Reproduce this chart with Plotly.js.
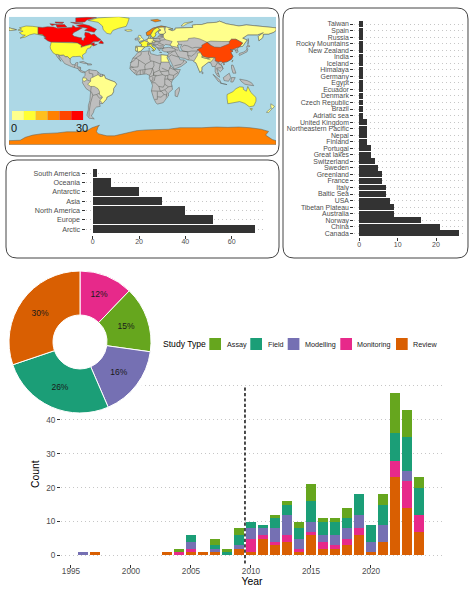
<!DOCTYPE html>
<html><head><meta charset="utf-8">
<script src="https://cdn.plot.ly/plotly-3.0.1.min.js"></script>
<style>html,body{margin:0;padding:0;background:#fff}</style></head>
<body><div id="chart" style="width:474px;height:599px"></div>
<script>
const W=474,H=599;
const FONT='"Liberation Sans", Arial, sans-serif';
const TXT='#4D4D4D', BAR='#333333', GRID='#C6C6C6';
// Map outlines: lon,lat pairs
const mapColors=['#FFFF8C','#FFFF33','#FFBF1F','#FF8000','#FF4500','#FF0000'];
const OCEAN='#ADD8E6', LAND='#BEBEBE', EDGE='#5A5F58';
const landPolys=[
 [-117,32.5,-114.8,32.5,-111,31.3,-106.5,31.7,-104,29.5,-101,29.5,-97.5,26,-97.5,22,-95,18.5,-91,18.5,-90,21,-87,21.5,-88,16,-83.5,15,-83.5,11,-80,9,-77.5,8.5,-80,7.5,-84,9,-87,13,-92,14.5,-96,16,-105,20,-109,25,-113,31,-112,27,-110,23,-115,29,-117,32.5],
 [-85,22,-80,23,-74,20,-78,20,-85,22],[-74,19.8,-69,19.5,-68.5,18.3,-74,18],
 [-77.5,8.5,-72,12,-68,11,-62,10.5,-57,6,-51.5,4.5,-50,0,-44,-2.5,-37,-5,-35,-8,-39,-14,-39,-18,-41,-22,-48,-25.5,-48.5,-28,-53.5,-34,-58,-34.5,-57,-38,-62,-39,-65,-42,-66,-46,-69,-51,-65,-55,-72,-54,-75,-50,-73,-42,-73,-37,-71,-30,-70,-18,-76,-14,-81,-6,-80,-2,-80,1,-77.5,4,-77.5,8.5],
 [-6,35.5,3,37,10,37.5,11,33.5,15,32.5,20,32,20,31,25,32,32,31,34,31,33,28,36,22,37.5,18,43,12,51,12,48,5,40,-3,39,-7,40.5,-15,35,-20,35,-24,33,-26,28,-33,20,-35,18,-33,15,-27,12,-17,13.5,-10,12,-5,9,0,9.5,4,5,6,-4,5,-8,4.5,-13,8.5,-17,13,-16,20,-13,27.5,-9.5,31,-6,35.5],
 [49.5,-12,50,-16,47,-25,44,-24,44,-17,49.5,-12],
 [-9,37,-9.5,39,-9,43.5,-2,43.5,-1,46,-4.5,48.5,2,51,8,54,8.5,57,11,56,11,54,19,54.5,21,57,24,59,30,60,23,60,21,63,25,65.5,22,65.5,17,61,18,59,16,56,13,55.5,11,59,6,58,5,62,14,68,25,71,31,70,41,67,35,66.5,40,64.5,44,66,44,68,54,68.5,68,69,67,72,73,73,80,73,87,75,100,76,104,77.5,113,74,130,71,140,72.5,160,70,170,69.5,180,68.5,180,65,177,62.5,170,60,163,60,162,55,157,51,156,57,163,62,155,59,142,59,135,54.5,141,52,135,43.5,130,42.5,127.5,39.5,129,36,126.5,34.5,125,39,121,39,118,39,122,37,119,35,122,30,120,26,114,22.5,108,21.5,106,19,109,13,105,9,100,13.5,103,5,104,1.5,100.5,4,98,9,98,16,94,16,92,21,89,22,86,20,80,15,80,11,77.5,8,73,19,72,21,67,24.5,61,25,57,27,51,28,48,30,51,25,56,25,60,22,52,16,43,12.5,39,21,35,28,34,31,36,36,30,36,26,38,27,41,35,42,41,41,37,45,31,46,28,43,29,41,24,40.5,23,37,19,42,14,45.5,12.5,44,18,40,16,38,10,44,4,43.5,0,39.5,-2,37,-5.5,36,-9,37],
 [95,5.5,104,-2,106,-6,102,-4,95,5.5],[105,-6.5,114,-7.5,114,-8.5,106,-7.5],[109,1,117,7,119,1,116,-4,110,-3,109,1],[120,1,125,1,122,-5,119,-5],
 [131,-1,141,-3,147,-6,150,-10,143,-9,138,-8,133,-4,131,-1],[120,18,122,18,124,13,126,7,122,7,120,14],
 [130,32,131,34,136,35.5,140,38,141,41,142,39,141,36,136,34,131,31,130,32],[140,42,145,43.5,142,45.5,140,42],[142,46,143,50,142.5,54,142,50],
 [80,9.5,82,7,80.5,6,80,9.5],[-10,52,-6,52,-6,55,-10,54],[-180,68.5,-175,67,-170,66,-178,65,-180,65],[24,35.5,26,35,23,35],[33,35,34.5,35.5,33,34.7],[9,41,9.7,40,9,39,8.3,40]
];
const lakes=[[47,45,53,46,51,42,54,37,50,37,49,41,47,45],[-88,48,-85,47,-85,48.5,-88,48.8],[-87,45,-85,44,-83,45,-87,46]];
const countries=[
 {name:'Canada',value:26,polys:[
  [-141,69.6,-135,69,-128,70,-120,69.5,-115,68,-108,68,-100,68,-95,69,-94,72,-90,69,-85,69.5,-81,68.5,-87,65,-93,62,-94.5,59,-92,57,-85,55.3,-82,55,-82,52.5,-79.5,51.3,-79,54,-77,56,-78,59,-77.5,62.5,-72,61.5,-69,59,-65,60,-61,56,-56,52.5,-60,50,-66,50,-70,47,-65,48.5,-65,46,-61,46,-66,44,-67,45,-70,46,-75,45,-79,43.5,-83,42,-82.5,45,-88,48,-95,49,-123,49,-128,51,-133,55,-130,55,-135,59,-141,60],
  [-80,73.5,-72,71.5,-67,69,-62,66.5,-65,62.5,-72,64,-78,65,-74,68,-85,70,-89,72,-80,73.5],[-117,73,-105,73,-102,69.5,-115,69,-117,73],[-90,76.5,-78,76.5,-75,79,-62,82.5,-75,83,-90,82,-90,76.5],[-125,74,-116,73.5,-122,71.5,-125,74],[-97,76,-80,75,-90,74,-97,76],[-118,76.5,-106,76,-108,74.5,-117,75],[-59,47.7,-53,47,-53,49,-56,51.5,-59,47.7]]},
 {name:'USA',value:8,polys:[
  [-123,49,-95,49,-88,48,-82.5,45,-83,42,-79,43.5,-75,45,-70,46,-67,45,-70,43,-70,41.5,-74,40.5,-76,37,-76,35,-81,31.5,-80,25.5,-82.5,28,-84,30,-90,29.5,-94,29.5,-97,27.5,-97.5,26,-101,29.5,-104,29.5,-106.5,31.7,-111,31.3,-114.8,32.5,-117,32.5,-120.5,34.5,-122.5,37.5,-124,40,-124.5,43,-124,46.5,-123,49],
  [-141,69.6,-141,60,-135,59,-130,55,-134,58,-146,60.5,-152,59,-158,56,-165,54.5,-158,58.5,-162,59,-166,62,-161,64,-168,65.5,-163,67,-166,68.5,-157,71,-148,70.5,-141,69.6]]},
 {name:'Greenland',value:6,polys:[[-73,78.5,-60,82,-32,83.6,-18,81.5,-20,75,-22,70.5,-32,68,-40,65,-43,60,-48,61,-53,66,-54,71,-60,76,-73,78.5]]},
 {name:'Brazil',value:1,polys:[[-51.5,4.5,-50,0,-44,-2.5,-37,-5,-35,-8,-39,-14,-39,-18,-41,-22,-48,-25.5,-48.5,-28,-53.5,-34,-57.5,-30,-54,-26,-55,-24,-58,-22,-58,-18,-60,-14,-65,-11,-70,-11,-74,-8,-70,-4,-70,0,-67,1.5,-60,5,-56,2,-51.5,4.5]]},
 {name:'Ecuador',value:1,polys:[[-80,1,-75.5,0,-75,-2,-79,-4.5,-81,-2,-80,1]]},
 {name:'Egypt',value:1,polys:[[25,32,32,31,34,31,33,28,36,22,25,22,25,32]]},
 {name:'Russia',value:1,polys:[
  [28,56,31,52.5,40,50,38,47,37,45,40,43.5,48,42,47,45,49,46.5,47,50,55,51,61,51,62,54,70,55,77,53.5,87,49,92,50.5,98,50,107,50,117,50,120,53,126,53,135,48,131,43,135,43.5,141,52,135,54.5,142,59,155,59,163,62,156,57,157,51,162,55,163,60,170,60,177,62.5,180,65,180,68.5,170,69.5,160,70,140,72.5,130,71,113,74,104,77.5,100,76,87,75,80,73,73,73,67,72,68,69,54,68.5,44,68,44,66,40,64.5,35,66.5,41,67,31,70,30,65,31,62,28,60,28,56],
  [-180,68.5,-175,67,-170,66,-178,65,-180,65],[52,71,56,75,68,77,60,74,55,71]]},
 {name:'China',value:21,polys:[[74,39,80,42,80,45,87,49,92,45,97,42.5,105,42,112,45,117,47,117,50,120,53,126,53,135,48,131,43,130,42.5,124.5,40,121,39,118,39,122,37,119,35,122,30,120,26,114,22.5,108,21.5,106,23,102,22,98,24,98,28,92,28,86,28,81,30,78,35,74,39],[109,20,111,19.5,109.5,18.3]]},
 {name:'India',value:1,polys:[[74,34,78,35,81,30,80,28.5,88,26.5,92,28,97,28,94,24,92,22,89,22,86,20,80,15,80,11,77.5,8,73,19,72,21,69,23,71,27,74,31,74,34]]},
 {name:'Nepal',value:2,polys:[[80,30,86,28,88,27.8,88,26.5,80,28.5]]},
 {name:'Australia',value:9,polys:[[114,-22,122,-18,126,-14,131,-11.5,136,-12,136,-15,140,-17.5,142,-11,146,-19,153,-26,153,-31,150,-37.5,144,-38.5,138,-34,131,-31.5,124,-33,115,-34.5,114,-27,114,-22],[145,-41,148,-41,147,-43.5]]},
 {name:'New Zealand',value:1,polys:[[173,-34.5,178,-38,175,-41.5,173,-39,173,-34.5],[172.5,-41,174,-42,170,-46.5,167,-46,172.5,-41]]},
 {name:'Taiwan',value:1,polys:[[120.5,23,121.5,25,122,25,121,22]]},
 {name:'United Kingdom',value:2,polys:[[-5.5,50,1.5,51.5,1.5,53,-2,56,-2,58,-5,58.5,-6,56,-3,54,-5,52,-5.5,50]]},
 {name:'Iceland',value:1,polys:[[-24,65.5,-15,66,-14,64.5,-20,63.5,-24,65.5]]},
 {name:'Norway',value:16,polys:[[5,62,14,68,25,71,31,70,29,69.5,20,69,15,66,12,61,11,59,6,58,5,62],[11,79,20,80,25,78,17,76.5,11,79]]},
 {name:'Sweden',value:5,polys:[[11,59,12,61,15,66,20,69,24,66,22,65.5,17,61,18,59,16,56,13,55.5,11,59]]},
 {name:'Finland',value:2,polys:[[20,69,29,69.5,30,65,31,62,28,60,23,60,21,63,25,65.5,24,66,20,69]]},
 {name:'Denmark',value:1,polys:[[8,54.8,8.5,57,10.5,57.5,11,55,8,54.8]]},
 {name:'France',value:6,polys:[[-1.5,43.5,3,42.5,7.5,43.7,7,46,8,49,2.5,51,-1,49,-4.5,48.5,-1,46,-1.5,43.5]]},
 {name:'Spain',value:1,polys:[[-9,43.5,-2,43.5,3,42.5,0,39.5,-2,37,-5.5,36,-7,37,-7,42,-9,42,-9,43.5]]},
 {name:'Portugal',value:3,polys:[[-9,37,-9.5,39,-9,42,-7,42,-7,37,-9,37]]},
 {name:'Italy',value:7,polys:[[7,44,7.5,46,13,46.5,12.5,44,18,40,16,38,10,44,7,44],[12.5,38,15.5,38,15,36.7]]},
 {name:'Germany',value:1,polys:[[6,51,7,54,14,54,15,51,13,48,8,47.6,8,49,6,51]]},
 {name:'Switzerland',value:4,polys:[[6,46.3,10,46.5,9.5,47.5,7.5,47.6]]},
 {name:'Czech Republic',value:1,polys:[[12.5,50,15,51,18.5,49.7,15,48.7]]},
 {name:'Antarctica',value:16,polys:[[-180,-90,-180,-84.5,-165,-84,-158,-80,-148,-77,-135,-75,-115,-74,-102,-72.5,-90,-72.5,-75,-71,-68,-67,-58,-63.5,-60,-66,-62,-72,-60,-75,-48,-78,-38,-78,-28,-76,-18,-73,-8,-71,5,-70,20,-70,35,-69,50,-67,60,-67,70,-68,80,-67,90,-66.5,100,-66,115,-66.5,130,-66,145,-67,160,-69,170,-72,166,-77,175,-83,180,-84.5,180,-90]]}
];
const borderLines=[
 [-72,12,-72,7,-67,6,-67,1.5],[-60,8.5,-60,5],[-57,6,-57,2],[-54,5.5,-54,2.5],[-69,-11,-69,-17,-70,-18],[-58,-20,-62,-22,-67,-23,-69,-18],[-67,-23,-70,-33,-72,-45,-72,-52],[-62,-22,-58,-27,-54.5,-26],[-58,-34,-58,-30.5,-57.5,-30],[-75,-2,-70,-4],[-92,14.5,-91,18,-89,18],[-88,14,-83.5,14],[-86,11,-83.5,11],
 [-1.5,35,-2,32,-8.5,28,-8.7,27.3,-13,27.5],[8.5,37,8,33,10,30,10,25,12,23.5],[25,20,24,19.5,15,23,12,23.5,4,19,3,16],[-8.7,27.3,-5,25,1,21,4,19],[-8.7,27.3,-12,23.5,-17,21],[-5,25,-6,15.5,-12,15,-16,16.5],[15,23,15.5,17,13.5,13.5,9,13,3.5,12,3,16],[3.5,12,2.7,6.4],[13.5,13.5,12,8,9.5,4],[25,22,24,19.5,22.5,13,24,9,27,5,31,3.5,34,4,36,5,35,10,36.5,14.5,38.5,18],[36.5,14.5,43,11.5,48,8,42,4,36,5],[42,4,41,-2],[41,-2,34,-1,34,4],[39,-5,34,-1,30,-1,30,-8,35,-11.5,40.5,-10.5],[12.5,-6,17,-6,22,-11,28,-12,30,-8],[30,-1,31,3.5],[27,5,19,4,17,3,16,-3,12.5,-5],[22.5,11,15,7.5,15,4,19,4],[13.5,13.5,15,9,15,4,10,2],[14,2,14,-2,11,-4],[12,-17,24,-17.5,22,-11],[24,-17.5,30,-15.5,35,-11.5],[30,-15.5,33,-19,32,-26],[20,-18,20,-28.5,16.5,-28.5],[20,-25,25,-25.5,29,-22,33,-22.5],[24,-17.5,26,-18,29,-22],[-8,4.5,-7.5,8,-4,11,3.5,12],[-3,5,-3,11],[1,6,0.5,11],[-13,12.5,-8,10,-11,7],[-17,14,-12,15],[26,14,32,12,35,10],[24,9,30,10,34,10],
 [14,54,23,54,24,50,15,51],[24,51.5,31,52.5],[23,54,28,56],[21,56,28,57],[24,58,28,58],[22,48,28,46,29,45],[20,46,23,44,28,44],[14,46,20,46,22,48],[9.5,47,17,48],[18.5,49.7,24,49],[19,42,23,41,26,41.5],[21,40,23,41],[19,44,14,45.5],
 [36,36.5,44,37,44,40,41,41],[44,39,48,38],[54,37,61,36,61,31,63,27,61,25],[44,37,46,33,48,30],[39,32,46,29,48,29],[36,33,42,37],[39,32,36,29.5],[43,17,52,19,55,22,56,25],[53,42,56,45,61,44,67,41,71,42,80,42],[54,37,61,36,66,37,74,37,74,39],[61,31,66,30,70,33,74,37],[98,24,101,21,98,16],[102,22,107,17,108,13],[100,14,103,14,106,14.5],[101,21,105,18],[100.5,6.5,103,6],[124.5,38,129,38.5],[88,26,92,25],[87,49,92,45]
];
// Regions
const regions=['Arctic','Europe','North America','Asia','Antarctic','Oceania','South America'];
const regionVals=[70,52,40,30,20,8,2];
// Places
const places=['Canada','China','Norway','Australia','Tibetan Plateau','USA','Baltic Sea','Italy','France','Greenland','Sweden','Switzerland','Great lakes','Portugal','Finland','Nepal','Northeastern Pacific','United Kingdom','Adriatic sea','Brazil','Czech Republic','Denmark','Ecuador','Egypt','Germany','Himalaya','Iceland','India','New Zealand','Rocky Mountains','Russia','Spain','Taiwan'];
const placeVals=[26,21,16,9,9,8,7,7,6,6,5,4,3,3,2,2,2,2,1,1,1,1,1,1,1,1,1,1,1,1,1,1,1];
// Study types
const types=['Assay','Field','Modelling','Monitoring','Review'];
const typeColors=['#66A61E','#1B9E77','#7570B3','#E7298A','#D95F02'];
const pieOrder=['Monitoring','Assay','Modelling','Field','Review'];
const pieVals=[12.2,15,16.3,26.3,30.2];
const pieText=['12%','15%','16%','26%','30%'];
// Yearly
const years=[1996,1997,2003,2004,2005,2006,2007,2008,2009,2010,2011,2012,2013,2014,2015,2016,2017,2018,2019,2020,2021,2022,2023,2024];
const review=[0,1,1,0,1,1,1,0,2,1,5,3,4,1,6,2,2,3,6,1,4,23,14,7];
const monitoring=[0,0,0,1,1,0,0,0,0,4,1,1,2,1,1,2,1,2,2,0,0,5,8,5];
const modelling=[1,0,0,0,2,0,1,0,1,3,2,4,6,3,3,2,3,3,4,3,5,0,3,0];
const field=[0,0,0,0,2,0,1,1,3,2,1,3,3,3,6,4,4,3,6,5,6,8,10,8];
const assay=[0,0,0,1,0,0,2,1,2,0,0,1,1,2,5,1,1,3,0,0,3,12,8,3];
const yearSeries=[review,monitoring,modelling,field,assay];
const seriesNames=['Review','Monitoring','Modelling','Field','Assay'];
const seriesColors=['#D95F02','#E7298A','#7570B3','#1B9E77','#66A61E'];

const px=x=>x/W, py=y=>1-y/H;
function rr(x0,y0,x1,y1,r){
  const X=v=>(v/W).toFixed(5),Y=v=>(1-v/H).toFixed(5);
  return `M${X(x0+r)},${Y(y0)}L${X(x1-r)},${Y(y0)}Q${X(x1)},${Y(y0)} ${X(x1)},${Y(y0+r)}L${X(x1)},${Y(y1-r)}Q${X(x1)},${Y(y1)} ${X(x1-r)},${Y(y1)}L${X(x0+r)},${Y(y1)}Q${X(x0)},${Y(y1)} ${X(x0)},${Y(y1-r)}L${X(x0)},${Y(y0+r)}Q${X(x0)},${Y(y0)} ${X(x0+r)},${Y(y0)}Z`;
}
const traces=[];
function polyTrace(p,fill,name){
  const x=[],y=[];
  for(let i=0;i<p.length;i+=2){x.push(p[i]);y.push(p[i+1]);}
  x.push(p[0]);y.push(p[1]);
  const t={type:'scatter',mode:'lines',x,y,xaxis:'x4',yaxis:'y4',line:{color:EDGE,width:0.5},hoverinfo:'skip',showlegend:false,name:name||''};
  if(fill){t.fill='toself';t.fillcolor=fill;}
  return t;
}
landPolys.forEach(p=>traces.push(polyTrace(p,LAND,'land')));
lakes.forEach(p=>traces.push(polyTrace(p,OCEAN,'lake')));
countries.forEach(c=>{
  const col=mapColors[Math.min(5,Math.floor(c.value/5))];
  c.polys.forEach(p=>traces.push(polyTrace(p,col,c.name)));
});
borderLines.forEach(l=>{
  const x=[],y=[];
  for(let i=0;i<l.length;i+=2){x.push(l[i]);y.push(l[i+1]);}
  traces.push({type:'scatter',mode:'lines',x,y,xaxis:'x4',yaxis:'y4',line:{color:EDGE,width:0.5},hoverinfo:'skip',showlegend:false});
});
traces.push({type:'bar',orientation:'h',x:regionVals,y:regions,marker:{color:BAR,line:{width:0}},width:0.9,xaxis:'x2',yaxis:'y2',showlegend:false});
traces.push({type:'bar',orientation:'h',x:placeVals,y:places,marker:{color:BAR,line:{width:0}},width:0.9,xaxis:'x3',yaxis:'y3',showlegend:false});
yearSeries.forEach((s,i)=>traces.push({type:'bar',x:years,y:s,name:seriesNames[i],marker:{color:seriesColors[i],line:{width:0}},width:0.9,xaxis:'x',yaxis:'y',showlegend:false}));
traces.push({type:'pie',labels:pieOrder,values:pieVals,text:pieText,textinfo:'text',textposition:'inside',insidetextorientation:'horizontal',
 sort:false,direction:'clockwise',rotation:0,hole:0.38,showlegend:false,
 marker:{colors:pieOrder.map(n=>typeColors[types.indexOf(n)]),line:{color:'#FFFFFF',width:1}},
 textfont:{family:FONT,size:8.5,color:'#1a1a1a'},domain:{x:[px(9),px(151)],y:[py(413),py(271)]}});

const tickStyle={ticks:'outside',ticklen:3,tickwidth:1,tickcolor:'#333',zeroline:false,showline:false,
 tickfont:{family:FONT,color:TXT}};
const BOX='#444';
const shapes=[
 {type:'rect',xref:'x4',yref:'y4',layer:'below',x0:-180,x1:180,y0:-90,y1:83.6,fillcolor:OCEAN,line:{width:0}},
 {type:'path',xref:'paper',yref:'paper',path:rr(5,8,279,156,11),line:{color:BOX,width:1},fillcolor:'rgba(0,0,0,0)'},
 {type:'path',xref:'paper',yref:'paper',path:rr(6,160,279,258,11),line:{color:BOX,width:1},fillcolor:'rgba(0,0,0,0)'},
 {type:'path',xref:'paper',yref:'paper',path:rr(283,8,468,258,11),line:{color:BOX,width:1},fillcolor:'rgba(0,0,0,0)'},
 {type:'line',xref:'x',yref:'paper',x0:2009.5,x1:2009.5,y0:py(563.6),y1:py(386),line:{color:'#000',width:1.4,dash:'3.2px,2.2px'}},
 {type:'rect',xref:'x',yref:'y',layer:'between',x0:1994.2,x1:2000.9,y0:45,y1:51,fillcolor:'#fff',line:{width:0}}
];
const annotations=[
 {xref:'paper',yref:'paper',x:px(160.5),y:py(344),text:'Study Type',showarrow:false,xanchor:'left',yanchor:'middle',font:{family:FONT,size:8.6,color:'#000'}}
];
const swX=[209.3,250.3,287.7,340.3,396], txX=[224.5,265.5,303.2,355.2,411.2];
types.forEach((t,i)=>{
 shapes.push({type:'rect',xref:'paper',yref:'paper',x0:px(swX[i]),x1:px(swX[i]+11.7),y0:py(350),y1:py(338),fillcolor:typeColors[i],line:{width:0}});
 annotations.push({xref:'paper',yref:'paper',x:px(txX[i]),y:py(344),text:t,showarrow:false,xanchor:'left',yanchor:'middle',font:{family:FONT,size:7.2,color:'#1a1a1a'}});
});
mapColors.forEach((c,i)=>{
 const a=12+i*11.85;
 shapes.push({type:'rect',xref:'paper',yref:'paper',x0:px(a),x1:px(a+11.85),y0:py(120),y1:py(111),fillcolor:c,line:{width:0}});
});
annotations.push({xref:'paper',yref:'paper',x:px(14),y:py(127.5),text:'0',showarrow:false,xanchor:'center',yanchor:'middle',font:{family:FONT,size:11,color:'#111'}});
annotations.push({xref:'paper',yref:'paper',x:px(82),y:py(127.5),text:'30',showarrow:false,xanchor:'center',yanchor:'middle',font:{family:FONT,size:11,color:'#111'}});

const layout={width:W,height:H,margin:{l:0,r:0,t:0,b:0},paper_bgcolor:'#fff',plot_bgcolor:'rgba(0,0,0,0)',barmode:'stack',bargap:0.1,showlegend:false,
 xaxis4:{domain:[px(9),px(276)],range:[-180,180],visible:false,anchor:'y4'},
 yaxis4:{domain:[py(144.7),py(16.7)],range:[-90,83.6],visible:false,anchor:'x4'},
 xaxis:{...tickStyle,domain:[px(61),px(443)],range:[1994.17,2026],tickvals:[1995,2000,2005,2010,2015,2020],tickfont:{family:FONT,size:8.2,color:TXT},showgrid:false,anchor:'y',ticklabelstandoff:-3,
  title:{text:'Year',font:{family:FONT,size:10.4,color:'#000'},standoff:2}},
 yaxis:{...tickStyle,domain:[py(563.6),py(384.6)],range:[-2.4,50.4],tickvals:[0,10,20,30,40,50],ticktext:['0','10','20','30','40',''],tickfont:{family:FONT,size:8.2,color:TXT},showgrid:true,gridcolor:GRID,griddash:'1px,3px',gridwidth:1,anchor:'x',
  title:{text:'Count',font:{family:FONT,size:10.4,color:'#000'},standoff:4}},
 xaxis2:{...tickStyle,domain:[px(85.5),px(263)],range:[-3.1,73.5],tickvals:[0,20,40,60],tickfont:{family:FONT,size:7,color:TXT},showgrid:false,anchor:'y2',ticklabelstandoff:-3},
 yaxis2:{...tickStyle,domain:[py(234.6),py(167.4)],type:'category',categoryorder:'array',categoryarray:regions,range:[-0.6,6.6],tickfont:{family:FONT,size:7.15,color:TXT},showgrid:true,gridcolor:GRID,griddash:'1px,3px',anchor:'x2'},
 xaxis3:{...tickStyle,domain:[px(354.3),px(464)],range:[-1.3,27.3],tickvals:[0,10,20],tickfont:{family:FONT,size:7,color:TXT},showgrid:false,anchor:'y3',ticklabelstandoff:-3},
 yaxis3:{...tickStyle,domain:[py(237.2),py(20.1)],type:'category',categoryorder:'array',categoryarray:places,range:[-0.6,32.6],dtick:1,tickfont:{family:FONT,size:6.9,color:TXT},showgrid:true,gridcolor:GRID,griddash:'1px,3px',anchor:'x3'},
 shapes,annotations};
Plotly.newPlot('chart',traces,layout,{displayModeBar:false,staticPlot:true});
</script></body></html>
